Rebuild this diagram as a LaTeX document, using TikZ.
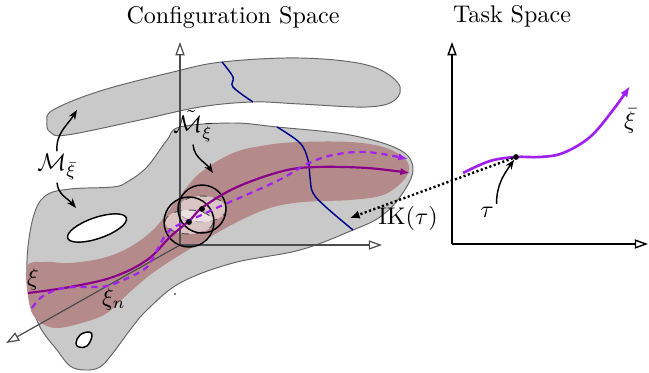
\documentclass[tikz,border=0pt]{standalone}
\usepackage{amsmath}
\usepackage{amssymb}
\usepackage{xcolor}
\usepackage{tikz}
\usetikzlibrary{arrows.meta,positioning,calc}

\definecolor{blobgray}{RGB}{201,201,201}
\definecolor{tubered}{RGB}{181,138,138}
\definecolor{xipurple}{RGB}{139,0,139}
\definecolor{xiviolet}{RGB}{160,32,240}
\definecolor{cutblue}{RGB}{0,0,140}

\begin{document}
\begin{tikzpicture}[x=0.415pt, y=-0.415pt,
    manifold/.style={fill=blobgray, draw=black!60, line width=0.4pt},
    tube/.style={fill=tubered, draw=none},
    hole/.style={fill=white, draw=black, line width=0.6pt},
    cut/.style={draw=cutblue, line width=0.6pt},
    axis_line/.style={draw=black!70, line width=0.5pt, -{Triangle[open, length=5.5pt, width=3.8pt]}},
    task_axis/.style={draw=black, line width=0.6pt, -{Triangle[open, length=5.5pt, width=3.8pt]}},
    ball/.style={draw=black, line width=0.6pt},
    ball_core/.style={fill=white, fill opacity=0.5, draw=black!70, dashed, line width=0.4pt},
    traj/.style={draw=xipurple, line width=0.9pt, -{Latex[length=4pt]}},
    traj_n/.style={draw=xiviolet, line width=0.9pt, dash pattern=on 2.6pt off 2pt, -{Latex[length=4pt]}},
    task_traj/.style={draw=xiviolet, line width=1.1pt, -{Latex[length=4.5pt]}},
    arrow/.style={line width=0.6pt, -{Stealth[length=4pt, width=3pt]}},
    ik_arrow/.style={line width=1pt, dash pattern=on 0.9pt off 1pt, -{Latex[length=4pt, width=3.5pt]}},
    dot/.style={circle, fill=black, inner sep=0pt, minimum size=2.4pt}
]
\useasboundingbox (0,0) rectangle (649,372);

% manifolds in configuration space
\draw[manifold] plot[smooth cycle, tension=0.6] coordinates {(53,110) (100,91) (173,72) (222,62) (300,58) (367,65) (398,83) (395,100) (367,107) (300,104) (253,102) (200,107) (140,120) (67,135) (50,132) (47,122)};
\draw[manifold] plot[smooth cycle, tension=0.6] coordinates {(180,127) (233,123) (277,127) (350,135) (400,150) (413,170) (400,197) (380,217) (353,230) (300,250) (233,263) (180,283) (147,310) (130,330) (113,353) (100,367) (85,370) (70,366) (57,350) (40,327) (30,297) (27,260) (33,218) (45,196) (70,189) (113,187) (127,182) (147,167) (167,140)};

% tube around the trajectory
\fill[tube] plot[smooth cycle, tension=0.6] coordinates {(27,267) (45,262) (70,263) (103,258) (130,247) (153,230) (167,213) (180,196) (200,173) (233,153) (267,145) (300,142) (350,142) (383,147) (403,157) (409,168) (403,181) (383,195) (350,200) (303,202) (270,208) (237,222) (205,240) (175,258) (150,275) (130,292) (107,313) (85,322) (57,328) (40,322) (30,307)};

% blue cuts
\draw[cut] plot[smooth, tension=0.6] coordinates {(222,62) (233,77) (233,87) (253,102)};
\draw[cut] plot[smooth, tension=0.6] coordinates {(277,127) (300,143) (308,160) (310,177) (313,193) (327,208) (353,230)};

% holes
\draw[hole, rotate around={19:(97,228)}] (97,228) ellipse [x radius=31, y radius=10.5];
\draw[hole] plot[smooth cycle, tension=0.7] coordinates {(76,343) (80,335) (89,332) (92,336) (87,346) (79,347)};

% neighbourhoods
\coordinate (c1) at (202,209);
\coordinate (c2) at (189,222);
\draw[ball_core] (c1) ellipse [x radius=24, y radius=13];
\draw[ball_core] (c2) ellipse [x radius=24, y radius=12];

% axes of configuration space
\coordinate (origin) at (180,245);
\coordinate (q1) at (382,245);
\coordinate (q2) at (180,42);
\coordinate (q3) at (6,343);
\draw[axis_line] (origin) -- (q1);
\draw[axis_line] (origin) -- (q2);
\draw[axis_line] (origin) -- (q3);

\draw[ball] (c1) circle [radius=24];
\draw[ball] (c2) circle [radius=25];

% trajectories
\draw[traj] plot[smooth, tension=0.6] coordinates {(28,293) (70,287) (113,277) (147,260) (170,237) (190,220) (203,207) (237,187) (283,171) (317,167) (367,168) (410,173)};
\draw[traj_n] plot[smooth, tension=0.6] coordinates {(32,308) (43,296) (63,288) (87,287) (107,286) (130,277) (147,267) (157,250) (167,233) (180,224) (197,217) (223,205) (253,192) (283,178) (307,164) (333,155) (367,152) (408,159)};

\node[dot] (p1) at (c1) {};
\node[dot] (p2) at (c2) {};
\fill (175,294) circle [radius=0.4pt];

% labels in configuration space
\node (config) at (233,17) {Configuration Space};
\node[inner sep=1pt] (mlabel) at (57,167) {$\mathcal{M}_{\bar{\xi}}$};
\node[inner sep=1pt] (mtilde) at (193,126) {$\tilde{\mathcal{M}}_{\bar{\xi}}$};
\node[inner sep=1pt] (xi) at (33,279) {$\xi$};
\node[inner sep=1pt] (xin) at (114,299) {$\xi_n$};
\node[inner sep=1pt] (ik) at (408,218) {IK$(\tau)$};

\coordinate (m_top) at (77,110);
\coordinate (m_bot) at (76,208);
\coordinate (mt_tip) at (213,173);
\draw[arrow] (mlabel.north) to[out=95, in=238] (m_top);
\draw[arrow] (mlabel.south) to[out=-85, in=130] (m_bot);
\draw[arrow] (mtilde.south) to[out=-85, in=125] (mt_tip);

% task space
\node (task) at (512,16) {Task Space};
\coordinate (t_origin) at (452,244);
\coordinate (t1) at (648,244);
\coordinate (t2) at (452,42);
\draw[task_axis] (t_origin) -- (t1);
\draw[task_axis] (t_origin) -- (t2);

\draw[task_traj] plot[smooth, tension=0.6] coordinates {(463,173) (490,161) (516,157) (540,157) (563,153) (590,137) (613,110) (630,86)};
\node[dot] (tau) at (516,157) {};
\node[inner sep=1pt] (xibar) at (630,121) {$\bar{\xi}$};
\node[inner sep=1pt] (taulabel) at (487,212) {$\tau$};
\draw[arrow] (taulabel.north east) to[out=90, in=235] (tau);

% inverse kinematics
\coordinate (ik_tip) at (350,218);
\draw[ik_arrow] (tau) -- (ik_tip);

\end{tikzpicture}
\end{document}
